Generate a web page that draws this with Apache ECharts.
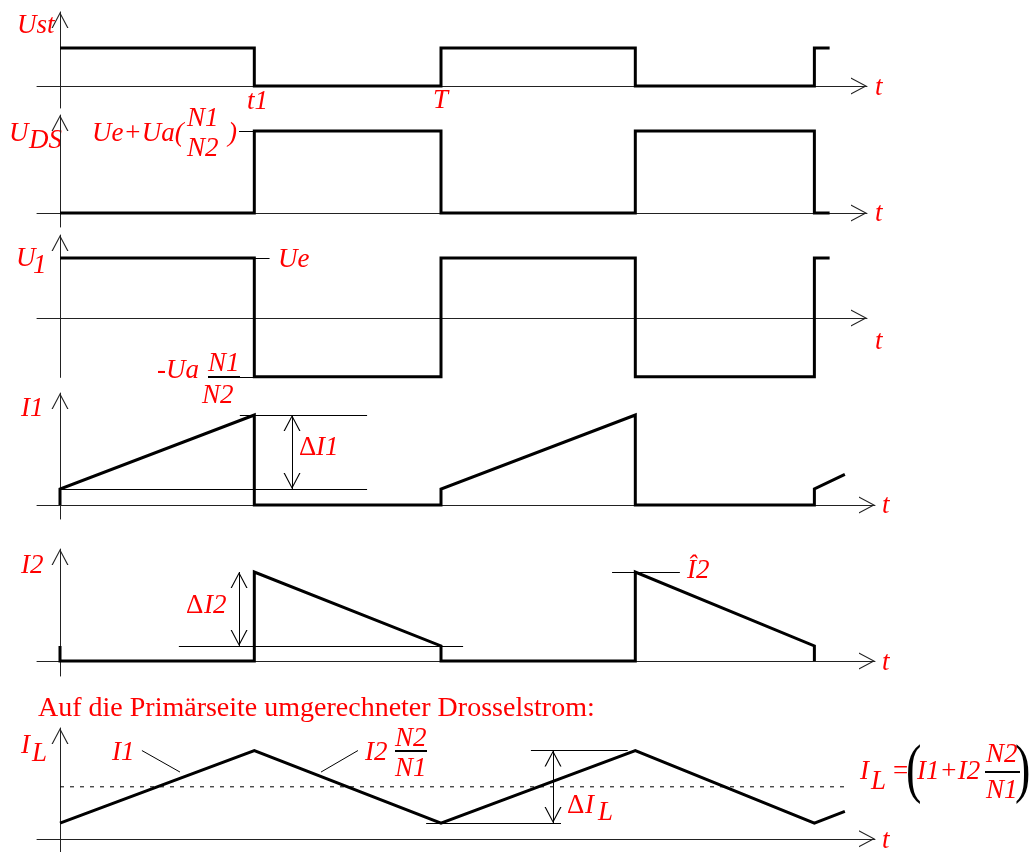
<!DOCTYPE html>
<html>
<head>
<meta charset="utf-8">
<title>Sperrwandler Zeitverlauf</title>
<script src="https://cdn.jsdelivr.net/npm/echarts@6/dist/echarts.min.js"></script>
<style>html,body{margin:0;background:#fff}</style>
</head>
<body>
<div id="main" style="width:1030px;height:852px"></div>
<script>
// Zeit in Perioden T (0, t1, T, T+t1, 2T)
var ust  = [[0,1],[0.51,1],[0.51,0],[1,0],[1,1],[1.51,1],[1.51,0],[1.98,0],[1.98,1],[2.02,1]];
var uds  = [[0,0],[0.51,0],[0.51,1],[1,1],[1,0],[1.51,0],[1.51,1],[1.98,1],[1.98,0],[2.02,0]];
var u1   = [[0,1],[0.51,1],[0.51,-0.98],[1,-0.98],[1,1],[1.51,1],[1.51,-0.98],[1.98,-0.98],[1.98,1],[2.02,1]];
var i1   = [[0,0],[0,0.178],[0.51,1],[0.51,0],[1,0],[1,0.178],[1.51,1],[1.51,0],[1.98,0],[1.98,0.178],[2.06,0.34]];
var i2   = [[0,0.169],[0,0],[0.51,0],[0.51,1],[1,0.169],[1,0],[1.51,0],[1.51,1],[1.98,0.169],[1.98,0]];
var il   = [[0,0.178],[0.51,1],[1,0.178],[1.51,1],[1.98,0.178],[2.06,0.31]];
var ilMittel = [[0,0.589],[2.06,0.589]];

// duenne Hilfslinien [[t1,y1],[t2,y2]]
var refUds = [[[0.47,1],[0.51,1]]];
var refU1  = [[[0.51,1],[0.55,1]], [[0.47,-0.98],[0.51,-0.98]]];
var refI1  = [[[0.472,1],[0.806,1]], [[0,0.178],[0.806,0.178]]];
var refI2  = [[[0.312,0.169],[1.058,0.169]], [[1.449,1],[1.627,1]]];
var refIL  = [[[0.961,0.178],[1.315,0.178]], [[1.236,1],[1.49,1]],
              [[0.215,1],[0.315,0.756]], [[0.782,1],[0.685,0.756]]];
// Doppelpfeile
var pfeilI1 = [[[0.609,0.178],[0.609,1]]];
var pfeilI2 = [[[0.47,0.169],[0.47,1]]];
var pfeilIL = [[[1.294,0.178],[1.294,1]]];

var CHEV = 'path://M8.5,0L8.5,0.01ZM8.5,16L17,32L15.7,32L8.5,18.3L1.3,32L0,32Z';
var RED = '#ff0000';
var X0 = 60, PX_T = 381, XL = 37;

var layout = [
  {base: 86,  ppu: 38, yMin: -0.58,  yMax: 1.95,  xEnd: 867},
  {base: 213, ppu: 82, yMin: -0.171, yMax: 1.195, xEnd: 867},
  {base: 318, ppu: 60, yMin: -0.99,  yMax: 1.383, xEnd: 867},
  {base: 505, ppu: 90, yMin: -0.156, yMax: 1.244, xEnd: 875},
  {base: 661, ppu: 89, yMin: -0.169, yMax: 1.258, xEnd: 875},
  {base: 841, ppu: 90, yMin: -0.15,  yMax: 1.256, xEnd: 875}
];

var grids = [], xAxes = [], yAxes = [];
layout.forEach(function (p, i) {
  grids.push({left: XL, top: p.base - p.yMax * p.ppu, width: p.xEnd - XL, height: (p.yMax - p.yMin) * p.ppu});
  var ax = {
    type: 'value', gridIndex: i,
    axisLine: {show: true, onZero: true, symbol: ['none', CHEV], symbolSize: [17, 32],
               lineStyle: {color: '#222', width: 1}},
    axisTick: {show: false}, axisLabel: {show: false}, splitLine: {show: false}
  };
  xAxes.push(Object.assign({}, ax, {min: (XL - X0) / PX_T, max: (p.xEnd - X0) / PX_T}));
  yAxes.push(Object.assign({}, ax, {min: p.yMin, max: p.yMax}));
});

function seg(s, arrow) {
  var a = {coord: s[0]}, b = {coord: s[1]};
  if (arrow) { a.symbol = b.symbol = CHEV; a.symbolSize = b.symbolSize = [17, 32]; }
  return [a, b];
}
function wave(i, data, refs, arrows) {
  var ml = (refs || []).map(function (s) { return seg(s, false); })
    .concat((arrows || []).map(function (s) { return seg(s, true); }));
  return {
    type: 'line', xAxisIndex: i, yAxisIndex: i, data: data, symbol: 'none', silent: true,
    lineStyle: {color: '#000', width: 3, join: 'miter'}, z: 3,
    markLine: {silent: true, symbol: 'none', label: {show: false}, animation: false,
               lineStyle: {color: '#000', width: 1, type: 'solid'}, data: ml}
  };
}

var series = [
  wave(0, ust),
  wave(1, uds, refUds),
  wave(2, u1, refU1),
  wave(3, i1, refI1, pfeilI1),
  wave(4, i2, refI2, pfeilI2),
  wave(5, il, refIL, pfeilIL),
  {type: 'line', xAxisIndex: 5, yAxisIndex: 5, data: ilMittel, symbol: 'none', silent: true,
   lineStyle: {color: '#000', width: 1, type: [4, 6]}}
];

// Beschriftung: [text, x links, Grundlinie, stil]
var FS = 27;
var IT = 'italic 27px "Liberation Serif"';
var UP = '27px "Liberation Serif"';
var texte = [
  ['Ust', 17, 35], ['t1', 247, 111], ['T', 433, 110],
  ['t', 875, 97], ['t', 875, 223], ['t', 875, 351], ['t', 882, 515], ['t', 882, 672], ['t', 882, 850],
  ['U', 9, 143], ['DS', 29, 150],
  ['Ue+Ua(', 92, 143], ['N1', 187, 128], ['N2', 187, 158], [')', 228, 143],
  ['U', 16, 268], ['1', 33, 275], ['Ue', 278, 269],
  ['-Ua', 157, 380], ['N1', 208, 373], ['N2', 202, 405],
  ['I1', 21, 418], ['\u0394', 299, 457, UP], ['I1', 316, 457],
  ['I2', 21, 575], ['\u0394', 186, 615, UP], ['I2', 204, 615], ['\u00CE2', 687, 580],
  ['Auf die Prim\u00e4rseite umgerechneter Drosselstrom:', 38, 717, '28px "Liberation Serif"'],
  ['I', 21, 755], ['L', 32, 763], ['I1', 112, 762],
  ['I2', 365, 762], ['N2', 395, 748], ['N1', 395, 778],
  ['\u0394', 567, 815, UP], ['I', 585, 815], ['L', 598, 822],
  ['I', 860, 781], ['L', 871, 791], ['=', 893, 781, UP], ['I1+I2', 917, 781], ['N2', 986, 764], ['N1', 986, 800]
];
var graphic = texte.map(function (t) {
  return {type: 'text', x: t[1], y: t[2] - 0.32 * FS, silent: true,
          style: {text: t[0], font: t[3] || IT, fill: RED, align: 'left', verticalAlign: 'middle'}};
});
// Bruchstriche und grosse Klammern
[[208, 240, 377], [395, 427, 751], [985, 1020, 772]].forEach(function (b) {
  graphic.push({type: 'line', silent: true, shape: {x1: b[0], y1: b[2], x2: b[1], y2: b[2]},
                style: {stroke: '#000', lineWidth: 2}});
});
[['(', 906], [')', 1015]].forEach(function (k) {
  graphic.push({type: 'text', x: k[1], y: 773, scaleX: 0.7, silent: true,
    style: {text: k[0], font: '66px "Liberation Serif"', fill: '#000', align: 'left', verticalAlign: 'middle'}});
});

var chart = echarts.init(document.getElementById('main'));
chart.setOption({
  animation: false,
  backgroundColor: '#fff',
  grid: grids, xAxis: xAxes, yAxis: yAxes,
  series: series,
  graphic: graphic
});
</script>
</body>
</html>
